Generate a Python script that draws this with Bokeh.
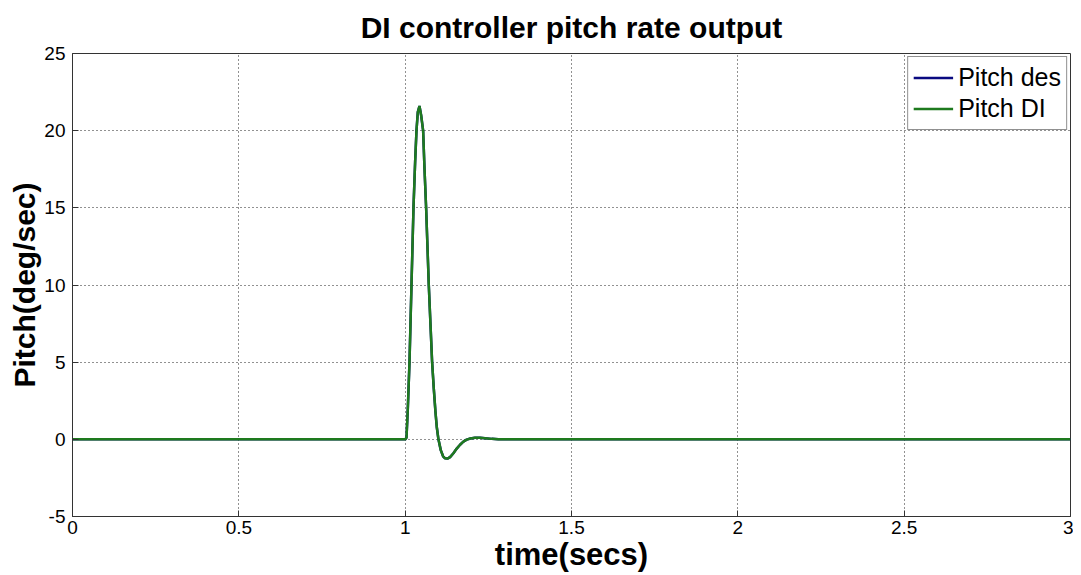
from bokeh.plotting import figure
from bokeh.models import Range1d, FixedTicker, Legend, LegendItem
from bokeh.embed import file_html
from bokeh.resources import INLINE

# Data
time_s = [0.0, 1.000, 1.004, 1.008, 1.013, 1.019, 1.025, 1.030, 1.034, 1.038,
          1.043, 1.048, 1.054, 1.058, 1.063, 1.067, 1.071, 1.076, 1.081, 1.086,
          1.091, 1.095, 1.100, 1.107, 1.114, 1.120, 1.127, 1.135, 1.145, 1.155,
          1.165, 1.175, 1.185, 1.196, 1.210, 1.225, 1.240, 1.260, 1.280, 3.0]
pitch_des = [0.0, 0.0, 0.1, 2.0, 5.0, 10.0, 15.0, 18.0, 20.0, 21.2,
             21.6, 21.0, 20.0, 17.6, 15.0, 12.5, 10.0, 7.5, 5.0, 3.3,
             1.8, 0.8, 0.0, -0.7, -1.1, -1.23, -1.25, -1.15, -0.9, -0.6,
             -0.35, -0.15, -0.02, 0.05, 0.10, 0.10, 0.07, 0.03, 0.0, 0.0]
pitch_di = [0.0, 0.0, 0.1, 2.0, 5.0, 10.0, 15.0, 18.0, 20.0, 21.2,
            21.6, 21.0, 20.0, 17.6, 15.0, 12.5, 10.0, 7.5, 5.0, 3.3,
            1.8, 0.8, 0.0, -0.7, -1.1, -1.23, -1.25, -1.15, -0.9, -0.6,
            -0.35, -0.15, -0.02, 0.05, 0.10, 0.10, 0.07, 0.03, 0.0, 0.0]
x_ticks = [0, 0.5, 1, 1.5, 2, 2.5, 3]
y_ticks = [-5, 0, 5, 10, 15, 20, 25]

FONT = "Liberation Sans"

p = figure(frame_width=998, frame_height=463, output_backend="svg", toolbar_location=None,
           x_range=Range1d(0, 3), y_range=Range1d(-5, 25),
           min_border_left=72, min_border_right=3, min_border_top=53, min_border_bottom=5)

p.title.text = "DI controller pitch rate output"
p.title.align = "center"
p.title.vertical_align = "top"
p.title.text_font = FONT
p.title.text_font_size = "30px"
p.title.text_font_style = "bold"
p.title.text_color = "black"
p.title.standoff = 16

p.background_fill_color = "white"
p.border_fill_color = "white"
p.outline_line_color = "#333333"
p.outline_line_width = 1

for ax, ticks in ((p.xaxis[0], x_ticks), (p.yaxis[0], y_ticks)):
    ax.ticker = FixedTicker(ticks=ticks)
    ax.major_label_overrides = {t: str(t) for t in ticks}
    ax.major_tick_in = 6
    ax.major_tick_out = 0
    ax.minor_tick_in = 0
    ax.minor_tick_out = 0
    ax.axis_line_color = "#333333"
    ax.major_tick_line_color = "#333333"
    ax.major_label_text_font = FONT
    ax.major_label_text_font_size = "19px"
    ax.major_label_text_color = "black"
    ax.axis_label_text_font = FONT
    ax.axis_label_text_font_style = "bold"
    ax.axis_label_text_color = "black"

p.xaxis.axis_label = "time(secs)"
p.yaxis.axis_label = "Pitch(deg/sec)"
p.xaxis.axis_label_text_font_size = "31px"
p.yaxis.axis_label_text_font_size = "30px"
p.xaxis.major_label_standoff = 4
p.yaxis.major_label_standoff = 7
p.xaxis.axis_label_standoff = 0
p.yaxis.axis_label_standoff = 0

for g in (p.xgrid[0], p.ygrid[0]):
    g.grid_line_color = "#222222"
    g.grid_line_dash = "1 3"
    g.grid_line_width = 1
p.xgrid.ticker = FixedTicker(ticks=x_ticks)
p.ygrid.ticker = FixedTicker(ticks=y_ticks)

r1 = p.line(time_s, pitch_des, line_color="#0a0a80", line_width=2.5)
r2 = p.line(time_s, pitch_di, line_color="#1e7a1e", line_width=2.5)

legend = Legend(items=[LegendItem(label="Pitch des", renderers=[r1]),
                       LegendItem(label="Pitch DI", renderers=[r2])],
                location="top_right")
legend.label_text_font = FONT
legend.label_text_font_size = "25px"
legend.label_text_color = "black"
legend.border_line_color = "#222222"
legend.border_line_width = 1
legend.margin = 3
legend.padding = 5
legend.spacing = 0
legend.glyph_width = 40
legend.label_standoff = 5
legend.label_height = 31
legend.glyph_height = 31
legend.background_fill_alpha = 1
p.add_layout(legend)

open("out.html", "w").write(file_html(p, INLINE))
